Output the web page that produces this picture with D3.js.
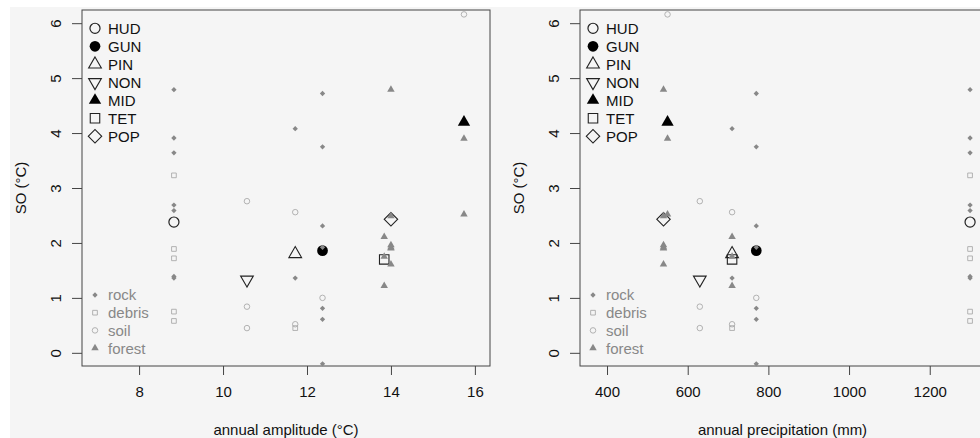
<!DOCTYPE html>
<html>
<head>
<meta charset="utf-8">
<script src="https://cdn.jsdelivr.net/npm/d3@7"></script>
<style>
  body { margin: 0; background: #fff; }
  svg { display: block; font-family: "Liberation Sans", Arial, sans-serif; }
</style>
</head>
<body>
<svg id="chart" width="980" height="438"></svg>
<script>
// sites (means shown as big symbols)
var sites = ["HUD", "GUN", "PIN", "NON", "MID", "TET", "POP"];
var amplitude = [8.83, 12.37, 11.72, 10.57, 15.74, 13.84, 14.0];
var precipitation = [1300, 770, 710, 630, 550, 710, 540];
var siteMeans = [2.38, 1.86, 1.80, 1.33, 4.20, 1.70, 2.43];

// single loggers: site, surface type, SO value
var obsSite = [
  "HUD", "HUD", "HUD", "HUD", "HUD", "HUD", "HUD", "HUD", "HUD", "HUD", "HUD", "HUD",
  "GUN", "GUN", "GUN", "GUN", "GUN", "GUN", "GUN", "GUN",
  "PIN", "PIN", "PIN", "PIN", "PIN",
  "NON", "NON", "NON",
  "MID", "MID", "MID",
  "TET", "TET", "TET",
  "POP", "POP", "POP", "POP", "POP", "POP"
];
var obsType = [
  "rock", "rock", "rock", "rock", "rock", "rock", "rock", "debris", "debris", "debris", "debris", "debris",
  "rock", "rock", "rock", "rock", "rock", "rock", "rock", "soil",
  "rock", "rock", "soil", "soil", "debris",
  "soil", "soil", "soil",
  "soil", "forest", "forest",
  "forest", "forest", "forest",
  "forest", "forest", "forest", "forest", "forest", "forest"
];
var obsValue = [
  4.79, 3.91, 3.64, 2.69, 2.59, 1.39, 1.36, 3.23, 1.89, 1.72, 0.75, 0.58,
  4.72, 3.75, 2.31, 1.92, 0.81, 0.61, -0.20, 1.00,
  4.08, 1.36, 2.56, 0.52, 0.45,
  2.76, 0.84, 0.45,
  6.16, 3.90, 2.52,
  2.11, 1.75, 1.22,
  4.79, 2.49, 1.96, 1.92, 1.90, 1.61
];

var types = ["rock", "debris", "soil", "forest"];
var yTicks = [0, 1, 2, 3, 4, 5, 6];
var ampTicks = [8, 10, 12, 14, 16];
var precTicks = [400, 600, 800, 1000, 1200];

var svg = d3.select("#chart");

// light grey figure background
svg.append("rect").attr("x", 10).attr("y", 7).attr("width", 970).attr("height", 431).attr("fill", "#f5f5f5");

var y = d3.scaleLinear().domain([-0.24, 6.24]).range([366, 10]);

// symbol helpers
var siteSymbol = function(sel, name) {
  var p = sel.append("path");
  if (name == "HUD") {
    p.attr("d", d3.symbol(d3.symbolCircle, 80)()).attr("fill", "none").attr("stroke", "#222").attr("stroke-width", 1.2);
  } else if (name == "GUN") {
    p.attr("d", d3.symbol(d3.symbolCircle, 90)()).attr("fill", "#000");
  } else if (name == "PIN") {
    p.attr("d", d3.symbol(d3.symbolTriangle, 70)()).attr("fill", "none").attr("stroke", "#222").attr("stroke-width", 1.1);
  } else if (name == "NON") {
    p.attr("d", d3.symbol(d3.symbolTriangle, 70)()).attr("transform", "rotate(180)")
      .attr("fill", "none").attr("stroke", "#222").attr("stroke-width", 1.1);
  } else if (name == "MID") {
    p.attr("d", d3.symbol(d3.symbolTriangle, 66)()).attr("fill", "#000");
  } else if (name == "TET") {
    p.attr("d", d3.symbol(d3.symbolSquare, 90)()).attr("fill", "none").attr("stroke", "#222").attr("stroke-width", 1.1);
  } else {
    p.attr("d", d3.symbol(d3.symbolSquare, 90)()).attr("transform", "rotate(45)")
      .attr("fill", "none").attr("stroke", "#222").attr("stroke-width", 1.1);
  }
};

var typeSymbol = function(sel, t) {
  var p = sel.append("path");
  if (t == "rock") {
    p.attr("d", d3.symbol(d3.symbolSquare, 14)()).attr("transform", "rotate(45)").attr("fill", "#888");
  } else if (t == "debris") {
    p.attr("d", d3.symbol(d3.symbolSquare, 22)()).attr("fill", "none").attr("stroke", "#aaa").attr("stroke-width", 0.9);
  } else if (t == "soil") {
    p.attr("d", d3.symbol(d3.symbolCircle, 24)()).attr("fill", "none").attr("stroke", "#aaa").attr("stroke-width", 0.9);
  } else {
    p.attr("d", d3.symbol(d3.symbolTriangle, 24)()).attr("fill", "#888");
  }
};

var drawPanel = function(xScale, xTicks, siteX, xLabel, left, right) {
  var g = svg.append("g");

  // axes
  var xAxis = g.append("g").attr("transform", "translate(0,366)")
    .call(d3.axisBottom(xScale).tickValues(xTicks).tickSize(9).tickPadding(11).tickFormat(d3.format("d")));
  xAxis.select(".domain").remove();
  xAxis.selectAll("line").attr("stroke", "#444");
  xAxis.selectAll("text").attr("font-size", 15).attr("fill", "#111").attr("font-family", "Liberation Sans, Arial, sans-serif");

  var yAxis = g.append("g").attr("transform", "translate(" + left + ",0)")
    .call(d3.axisLeft(y).tickValues(yTicks).tickSize(10).tickFormat(d3.format("d")));
  yAxis.select(".domain").remove();
  yAxis.selectAll("line").attr("stroke", "#444");
  yAxis.selectAll("text")
    .attr("x", 0).attr("dy", 0)
    .attr("transform", "translate(-21.5,0) rotate(-90)")
    .attr("text-anchor", "middle")
    .attr("font-size", 15).attr("fill", "#111").attr("font-family", "Liberation Sans, Arial, sans-serif");

  // frame
  g.append("rect").attr("x", left).attr("y", 10).attr("width", right - left).attr("height", 356)
    .attr("fill", "none").attr("stroke", "#444").attr("stroke-width", 1);

  // axis titles
  g.append("text").attr("x", (left + right) / 2).attr("y", 435).attr("text-anchor", "middle")
    .attr("font-size", 15).attr("fill", "#111").text(xLabel);
  g.append("text").attr("transform", "translate(" + (left - 56) + ",188) rotate(-90)")
    .attr("text-anchor", "middle").attr("font-size", 15).attr("fill", "#111").text("SO (°C)");

  // site means
  sites.forEach(function(s, i) {
    var m = g.append("g").attr("transform", "translate(" + xScale(siteX[i]) + "," + y(siteMeans[i]) + ")");
    siteSymbol(m, s);
  });

  // single observations
  obsValue.forEach(function(v, i) {
    var k = sites.indexOf(obsSite[i]);
    var m = g.append("g").attr("transform", "translate(" + xScale(siteX[k]) + "," + y(v) + ")");
    typeSymbol(m, obsType[i]);
  });

  // legend: sites
  sites.forEach(function(s, i) {
    var row = g.append("g").attr("transform", "translate(" + (left + 13) + "," + (28.3 + i * 18) + ")");
    siteSymbol(row, s);
    row.append("text").attr("x", 13).attr("y", 5.4).attr("font-size", 15).attr("fill", "#111").text(s);
  });

  // legend: surface types
  types.forEach(function(t, i) {
    var row = g.append("g").attr("transform", "translate(" + (left + 13) + "," + (295 + i * 17.7) + ")");
    typeSymbol(row, t);
    row.append("text").attr("x", 13).attr("y", 5.4).attr("font-size", 15).attr("fill", "#888").text(t);
  });
};

var xAmp = d3.scaleLinear().domain([6.64, 16.36]).range([82, 490]);
var xPrec = d3.scaleLinear().domain([333, 1337]).range([580, 985]);

drawPanel(xAmp, ampTicks, amplitude, "annual amplitude (°C)", 82, 490);
drawPanel(xPrec, precTicks, precipitation, "annual precipitation (mm)", 580, 985);
</script>
</body>
</html>
